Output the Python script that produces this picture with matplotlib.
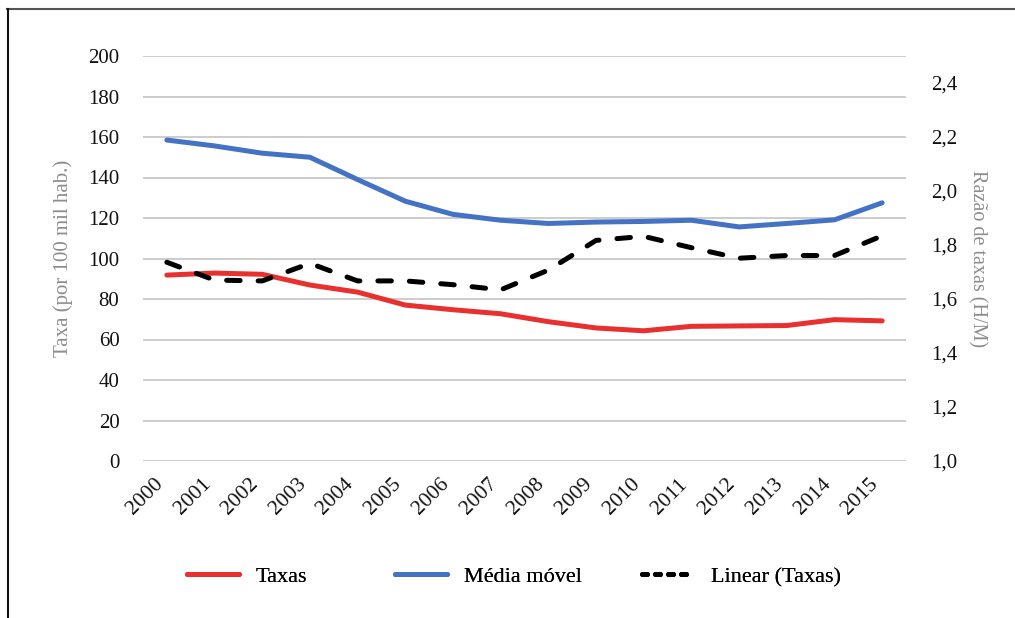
import matplotlib
matplotlib.use("Agg")
import matplotlib.pyplot as plt
from matplotlib.lines import Line2D
from matplotlib.ticker import FuncFormatter

years = ["2000", "2001", "2002", "2003", "2004", "2005", "2006", "2007",
         "2008", "2009", "2010", "2011", "2012", "2013", "2014", "2015"]
taxas = [91.8, 92.8, 92.2, 86.9, 83.4, 77.0, 74.7, 72.7,
         68.8, 65.7, 64.3, 66.5, 66.7, 66.9, 69.8, 69.2]
media_movel = [158.5, 155.6, 152.0, 150.0, 139.0, 128.3, 121.8, 118.9,
               117.3, 118.0, 118.3, 118.9, 115.6, 117.3, 119.1, 127.5]
razao = [1.736, 1.670, 1.667, 1.732, 1.667, 1.667, 1.653, 1.634,
         1.707, 1.817, 1.832, 1.790, 1.751, 1.761, 1.761, 1.834]

left_ticks = [0, 20, 40, 60, 80, 100, 120, 140, 160, 180, 200]
right_ticks = [1.0, 1.2, 1.4, 1.6, 1.8, 2.0, 2.2, 2.4]

FONT = "Liberation Serif"
plt.rcParams["font.family"] = [FONT, "DejaVu Serif"]

fig = plt.figure(figsize=(10.15, 6.18), dpi=100)
ax = fig.add_axes([143 / 1015, 157 / 618, 763 / 1015, 405 / 618])
ax2 = ax.twinx()

red = "#E8302E"
blue = "#4472C4"
x = list(range(len(years)))

ax.plot(x, taxas, color=red, lw=3.6, solid_capstyle="round", zorder=3)
ax.plot(x, media_movel, color=blue, lw=3.6, solid_capstyle="round", zorder=3)
ax2.plot(x, razao, color="black", lw=3.6, dashes=(2.7, 3.6),
         dash_capstyle="round", zorder=3)

ax.set_xlim(-0.5, len(years) - 0.5)
ax.set_ylim(0, 200)
ax2.set_ylim(1.0, 2.5)
ax.set_yticks(left_ticks)
ax2.set_yticks(right_ticks)
ax2.yaxis.set_major_formatter(FuncFormatter(lambda v, p: f"{v:.1f}".replace(".", ",")))
ax.set_xticks(x)
ax.set_xticklabels(years, rotation=45, ha="right", rotation_mode="default")

ax.yaxis.grid(True, color="#C8C8C8", lw=1.3)
ax.set_axisbelow(True)
for a in (ax, ax2):
    for s in a.spines.values():
        s.set_visible(False)
    a.tick_params(length=0, labelsize=15, labelcolor="#111111")
ax.tick_params(axis="y", pad=17)
ax2.tick_params(axis="y", pad=18)
ax.tick_params(axis="x", pad=10, labelsize=15.5)

ax.set_ylabel("Taxa (por 100 mil hab.)", color="#8C8C8C", fontsize=15)
ax2.set_ylabel("Razão de taxas (H/M)", color="#8C8C8C", fontsize=14.5,
               rotation=-90, labelpad=21)
ax.yaxis.set_label_coords(-0.092, 0.5)

handles = [
    Line2D([], [], color=red, lw=3.6, solid_capstyle="round"),
    Line2D([], [], color=blue, lw=3.6, solid_capstyle="round"),
    Line2D([], [], color="black", lw=3.6, dashes=(1.0, 1.6), dash_capstyle="round"),
]
labels = ["Taxas", "Média móvel", "Linear (Taxas)"]
legend_x = [187, 395, 642]
for h, lab, lx in zip(handles, labels, legend_x):
    leg = fig.legend([h], [lab], loc="center left",
                     bbox_to_anchor=(lx / 1015, 1 - 577 / 618),
                     frameon=False, fontsize=16, handlelength=2.35,
                     handletextpad=0.75, borderpad=0, borderaxespad=0)
    fig.add_artist(leg)

fig.add_artist(Line2D([7 / 1015, 1.0], [1 - 8.5 / 618, 1 - 8.5 / 618],
                      color="#555555", lw=1.5, transform=fig.transFigure))
fig.add_artist(Line2D([7.5 / 1015, 7.5 / 1015], [0, 1 - 8.5 / 618],
                      color="#111111", lw=1.5, transform=fig.transFigure))

fig.savefig("out.png", dpi=100)
